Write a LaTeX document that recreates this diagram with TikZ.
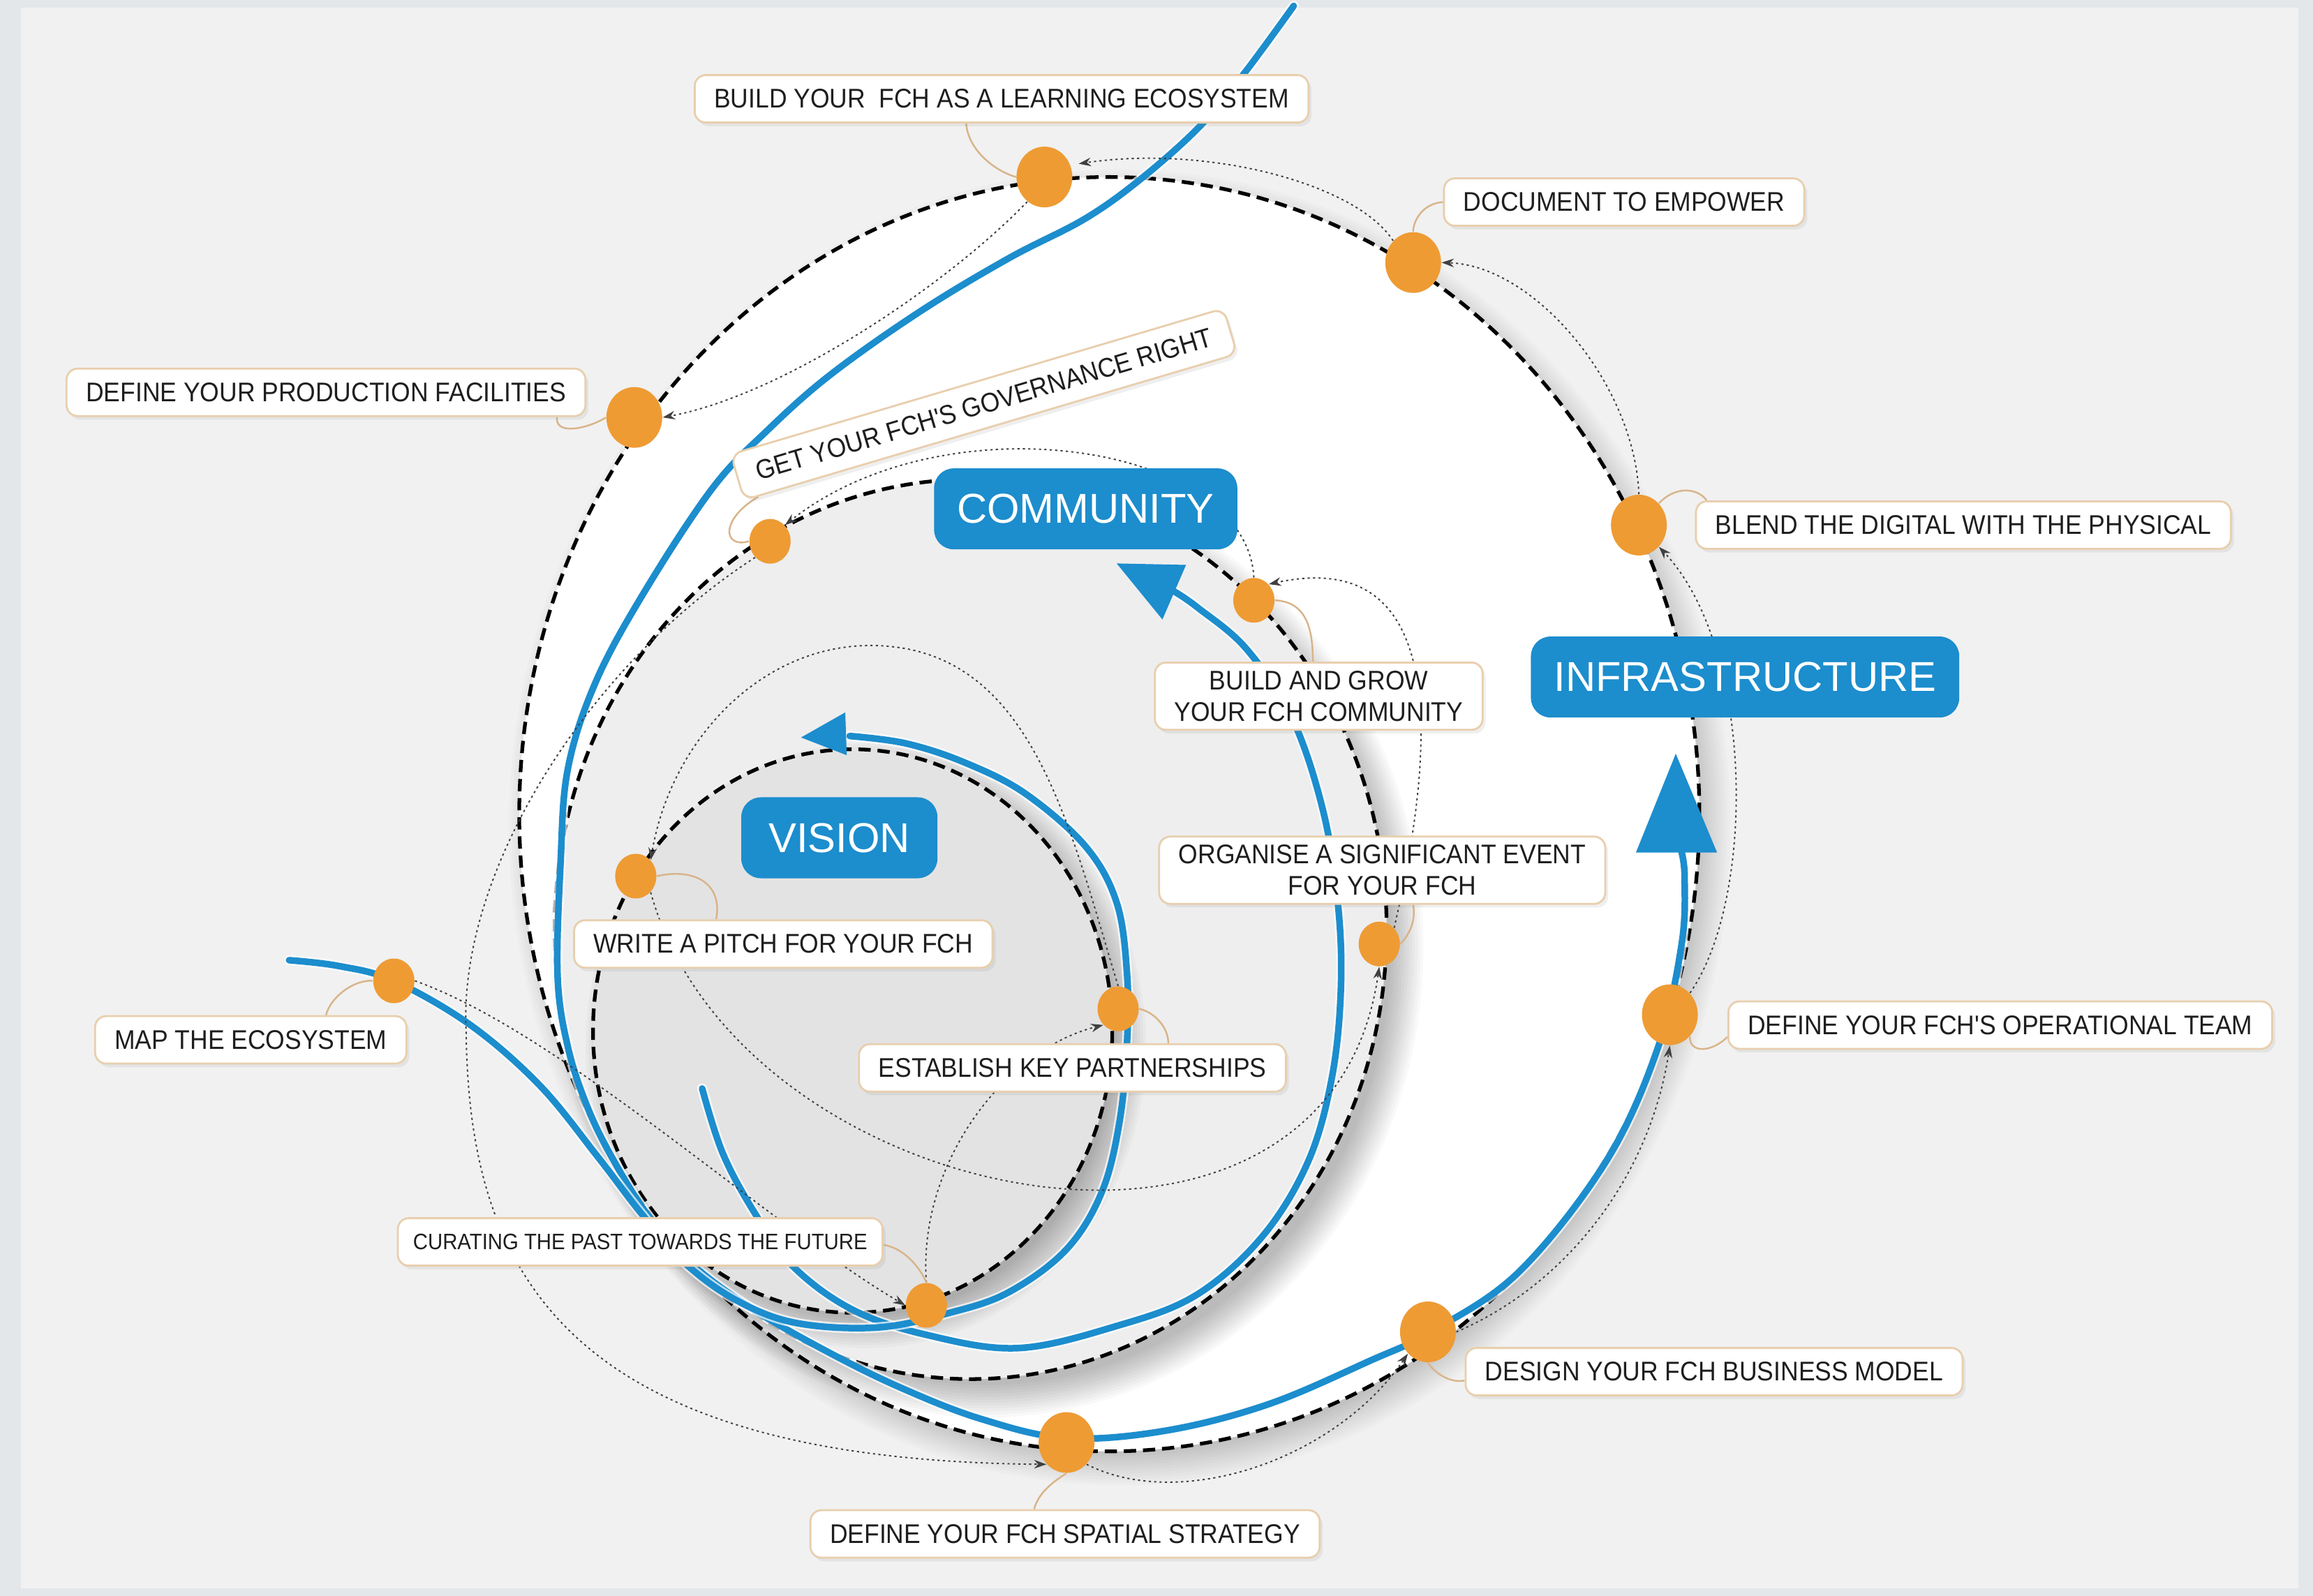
\documentclass[tikz,border=0pt]{standalone}
\usepackage{fontspec}
\setmainfont{Liberation Sans}
\newfontfamily\lblfont{Liberation Sans}[FakeStretch=0.917]
\usetikzlibrary{shapes.geometric,arrows.meta,calc,shadows}
\definecolor{bgout}{HTML}{E4E7EA}
\definecolor{bgin}{HTML}{F1F1F1}
\definecolor{fchblue}{HTML}{1C8DCD}
\definecolor{fchorange}{HTML}{EE9B34}
\definecolor{boxline}{HTML}{E8CFAE}
\definecolor{leadc}{HTML}{D8B48A}
\definecolor{commfill}{HTML}{EEEEEF}
\definecolor{visfill}{HTML}{E3E3E4}
\definecolor{txt}{HTML}{1E1E1E}
\pgfdeclarelayer{bg}
\pgfdeclarelayer{mid}
\pgfsetlayers{bg,mid,main}
\tikzset{
  lbl/.style={draw=boxline, line width=0.8pt, fill=white, rounded corners=4.5pt,
    inner xsep=0.28cm, inner ysep=0.12cm, minimum height=0.68cm,
    font=\lblfont\fontsize{11}{12.8}\selectfont, text=txt, align=center,
    drop shadow={shadow xshift=1.2pt, shadow yshift=-1.5pt, opacity=0.12}},
  biglbl/.style={fill=fchblue, rounded corners=8pt, text=white,
    font=\fontsize{17}{20}\selectfont, minimum height=1.16cm, inner xsep=0.33cm},
  bigdot/.style={ellipse, fill=fchorange, inner sep=0pt, minimum width=0.80cm, minimum height=0.87cm},
  smalldot/.style={ellipse, fill=fchorange, inner sep=0pt, minimum width=0.59cm, minimum height=0.64cm},
  dashline/.style={black, line width=1.5pt, dash pattern=on 5pt off 2.8pt},
  blueline/.style={fchblue, line width=2.7pt, line cap=round},
  halo/.style={white, line width=4.2pt, opacity=0.7, line cap=round},
  dotc/.style={black!75, line width=0.55pt, dash pattern=on 0.9pt off 1.3pt, -{Stealth[length=5pt,width=3.5pt]}},
  leader/.style={leadc, line width=0.7pt},
}
\begin{document}
\begin{tikzpicture}[x=0.021135cm, y=-0.021135cm]
\useasboundingbox (0,0) rectangle (1568,1082);

% ---------- dots ----------
\node[bigdot] (learndot) at (708,120) {};
\node[bigdot] (docdot) at (958,178) {};
\node[bigdot] (proddot) at (430,283) {};
\node[bigdot] (blenddot) at (1111,356) {};
\node[smalldot] (getdot) at (522,367) {};
\node[smalldot] (growdot) at (850,407) {};
\node[smalldot] (pitchdot) at (431,594) {};
\node[smalldot] (orgdot) at (935,640) {};
\node[smalldot] (mapdot) at (267,665) {};
\node[bigdot] (opdot) at (1132,688) {};
\node[smalldot] (estdot) at (758,684) {};
\node[smalldot] (curdot) at (628,885) {};
\node[bigdot] (designdot) at (968,903) {};
\node[bigdot] (spatdot) at (723,978) {};

% ---------- labels ----------
\node[lbl] (lbl-learn) at (679,67) {BUILD YOUR\ \ FCH AS A LEARNING ECOSYSTEM};
\node[lbl] (lbl-doc) at (1101,137) {DOCUMENT TO EMPOWER};
\node[lbl] (lbl-prod) at (221,266) {DEFINE YOUR PRODUCTION FACILITIES};
\node[lbl, rotate=16.5] (lbl-get) at (667,274) {GET YOUR FCH'S GOVERNANCE RIGHT};
\node[biglbl] (lcomm) at (736,345) {COMMUNITY};
\node[lbl] (lbl-blend) at (1331,356) {BLEND THE DIGITAL WITH THE PHYSICAL};
\node[lbl] (lbl-grow) at (894,472) {BUILD AND GROW\\YOUR FCH COMMUNITY};
\node[biglbl] (linfra) at (1183,459) {INFRASTRUCTURE};
\node[biglbl, minimum width=2.81cm] (lvision) at (569,568) {VISION};
\node[lbl] (lbl-org) at (937,590) {ORGANISE A SIGNIFICANT EVENT\\FOR YOUR FCH};
\node[lbl] (lbl-pitch) at (531,640) {WRITE A PITCH FOR YOUR FCH};
\node[lbl] (lbl-map) at (170,705) {MAP THE ECOSYSTEM};
\node[lbl] (lbl-op) at (1356,695) {DEFINE YOUR FCH'S OPERATIONAL TEAM};
\node[lbl] (lbl-est) at (727,724) {ESTABLISH KEY PARTNERSHIPS};
\node[lbl, inner xsep=0.22cm, font=\lblfont\fontsize{9.1}{11}\selectfont] (lbl-cur) at (434,842) {CURATING THE PAST TOWARDS THE FUTURE};
\node[lbl] (lbl-design) at (1162,930) {DESIGN YOUR FCH BUSINESS MODEL};
\node[lbl] (lbl-spat) at (722,1040) {DEFINE YOUR FCH SPATIAL STRATEGY};

% ---------- background shapes ----------
\begin{pgfonlayer}{bg}
\fill[bgout] (0,0) rectangle (1568,1082);
\fill[bgin] (14,5) rectangle (1558,1077);
% outer (infrastructure)
\foreach \k in {0,...,11} \fill[black, fill opacity=0.014] (759,561) ellipse ({392+2*\k} and {424+2*\k});
\fill[white] (752,552) ellipse (400 and 432);
% community
\foreach \k in {0,...,11} \fill[black, fill opacity=0.022] (669,642) ellipse ({274+2*\k} and {297+2*\k});
\fill[commfill] (658,630) ellipse (282 and 305);
% vision
\foreach \k in {0,...,11} \fill[black, fill opacity=0.022] (587,709) ellipse ({168+2*\k} and {183+2*\k});
\fill[visfill] (578,699) ellipse (176 and 191);
% dashed loops
\draw[dashline] (752,552) ellipse (400 and 432);
\draw[dashline] (658,630) ellipse (282 and 305);
\draw[dashline] (578,699) ellipse (176 and 191);

% blue arms
\def\armA{(877,4) (844,49) (814,85) (775,120) (736,148) (684,175) (624,211) (563,254) (520,292) (483,331) (437,401) (404,462) (385,521) (380,585) (378,662) (385,710) (398,750) (415,785) (440,825) (470,858) (511,888) (562,917) (611,941) (665,962) (723,975) (790,970) (860,952) (930,922) (968,904) (1029,863) (1089,787) (1124,710) (1140,640) (1142,595) (1140,578)}
\def\armV{(196,651) (230,655) (267,665) (319,695) (366,736) (405,784) (435,823) (465,857) (500,882) (540,897) (595,900) (644,890) (684,876) (723,847) (747,808) (759,760) (764,707) (764,660) (757,612) (736,574) (695,538) (654,517) (614,504) (576,499)}
\def\armC{(476,738) (490,782) (512,823) (538,859) (578,888) (628,905) (690,914) (757,899) (811,878) (856,838) (887,787) (903,730) (909,670) (907,613) (897,550) (876,487) (845,440) (812,412) (796,401)}
\draw[halo] plot[smooth, tension=0.6] coordinates {\armA};
\draw[blueline] plot[smooth, tension=0.6] coordinates {\armA};
\draw[halo] plot[smooth, tension=0.6] coordinates {\armC};
\draw[blueline] plot[smooth, tension=0.6] coordinates {\armC};
\draw[halo] plot[smooth, tension=0.6] coordinates {\armV};
\draw[blueline] plot[smooth, tension=0.6] coordinates {\armV};
% arrowheads
\fill[fchblue] (757,382) -- (804,383) -- (788,420) -- cycle;
\fill[fchblue] (543,500) -- (573,483) -- (574,512) -- cycle;
\fill[fchblue] (1136,511) -- (1164,578) -- (1109,578) -- cycle;
\end{pgfonlayer}

% ---------- connectors ----------
\begin{pgfonlayer}{mid}
% dotted sequence arrows
\draw[dotc] (docdot.north west) .. controls (920,125) and (820,98) .. ($(learndot.east)+(4,-9)$);
\draw[dotc] ($(learndot.south west)+(2,2)$) .. controls (640,195) and (530,268) .. (proddot.east);
\draw[dotc] (blenddot.north) .. controls (1108,260) and (1040,180) .. (docdot.east);
\draw[dotc] (opdot.north east) .. controls (1190,610) and (1190,440) .. (blenddot.south east);
\draw[dotc] (designdot.east) .. controls (1060,872) and (1118,800) .. (opdot.south);
\draw[dotc] (spatdot.south east) .. controls (800,1025) and (905,990) .. (designdot.south west);
\draw[dotc] (getdot.south west) .. controls (400,450) and (310,590) .. (316,700) .. controls (318,860) and (380,990) .. (spatdot.south west);
\draw[dotc] (growdot.north) .. controls (845,300) and (640,270) .. (getdot.north east);
\draw[dotc] (orgdot.north east) .. controls (975,500) and (980,370) .. (growdot.north east);
\draw[dotc] (pitchdot.south east) .. controls (500,820) and (900,900) .. (orgdot.south);
\draw[dotc] (curdot.north) .. controls (622,790) and (680,712) .. (estdot.south west);
\draw[dotc] (mapdot.east) .. controls (380,700) and (520,830) .. (curdot.west);
\draw[dotc] (estdot.north) .. controls (725,560) and (700,445) .. (600,438) .. controls (520,432) and (455,500) .. (pitchdot.north east);
% leader lines
\draw[leader] (learndot.west) .. controls (672,115) and (656,100) .. ($(lbl-learn.south)+(-24,0)$);
\draw[leader] (docdot.north) .. controls (958,150) and (964,138) .. (lbl-doc.west);
\draw[leader] (proddot.west) .. controls (400,290) and (376,296) .. ($(lbl-prod.south east)+(-20,0)$);
\draw[leader] (getdot.west) .. controls (490,372) and (488,352) .. ($(lbl-get.south west)!0.03!(lbl-get.south east)$);
\draw[leader] (growdot.east) .. controls (885,408) and (890,425) .. ($(lbl-grow.north)+(-4,0)$);
\draw[leader] (blenddot.north east) .. controls (1135,330) and (1150,330) .. ($(lbl-blend.north west)+(8,0)$);
\draw[leader] (pitchdot.east) .. controls (472,588) and (490,600) .. ($(lbl-pitch.north west)+(97,0)$);
\draw[leader] (orgdot.east) .. controls (955,634) and (960,625) .. ($(lbl-org.south)+(21,0)$);
\draw[leader] (mapdot.west) .. controls (240,664) and (224,676) .. ($(lbl-map.north)+(51,0)$);
\draw[leader] (opdot.south east) .. controls (1145,714) and (1160,714) .. ($(lbl-op.west)+(0,8)$);
\draw[leader] (estdot.east) .. controls (782,686) and (792,696) .. ($(lbl-est.north)+(65,0)$);
\draw[leader] (curdot.north) .. controls (623,858) and (612,846) .. ($(lbl-cur.east)+(0,2)$);
\draw[leader] (designdot.south) .. controls (972,930) and (982,938) .. ($(lbl-design.west)+(0,6)$);
\draw[leader] (spatdot.south) .. controls (708,1008) and (703,1016) .. ($(lbl-spat.north)+(-21,0)$);
\end{pgfonlayer}
\end{tikzpicture}
\end{document}
